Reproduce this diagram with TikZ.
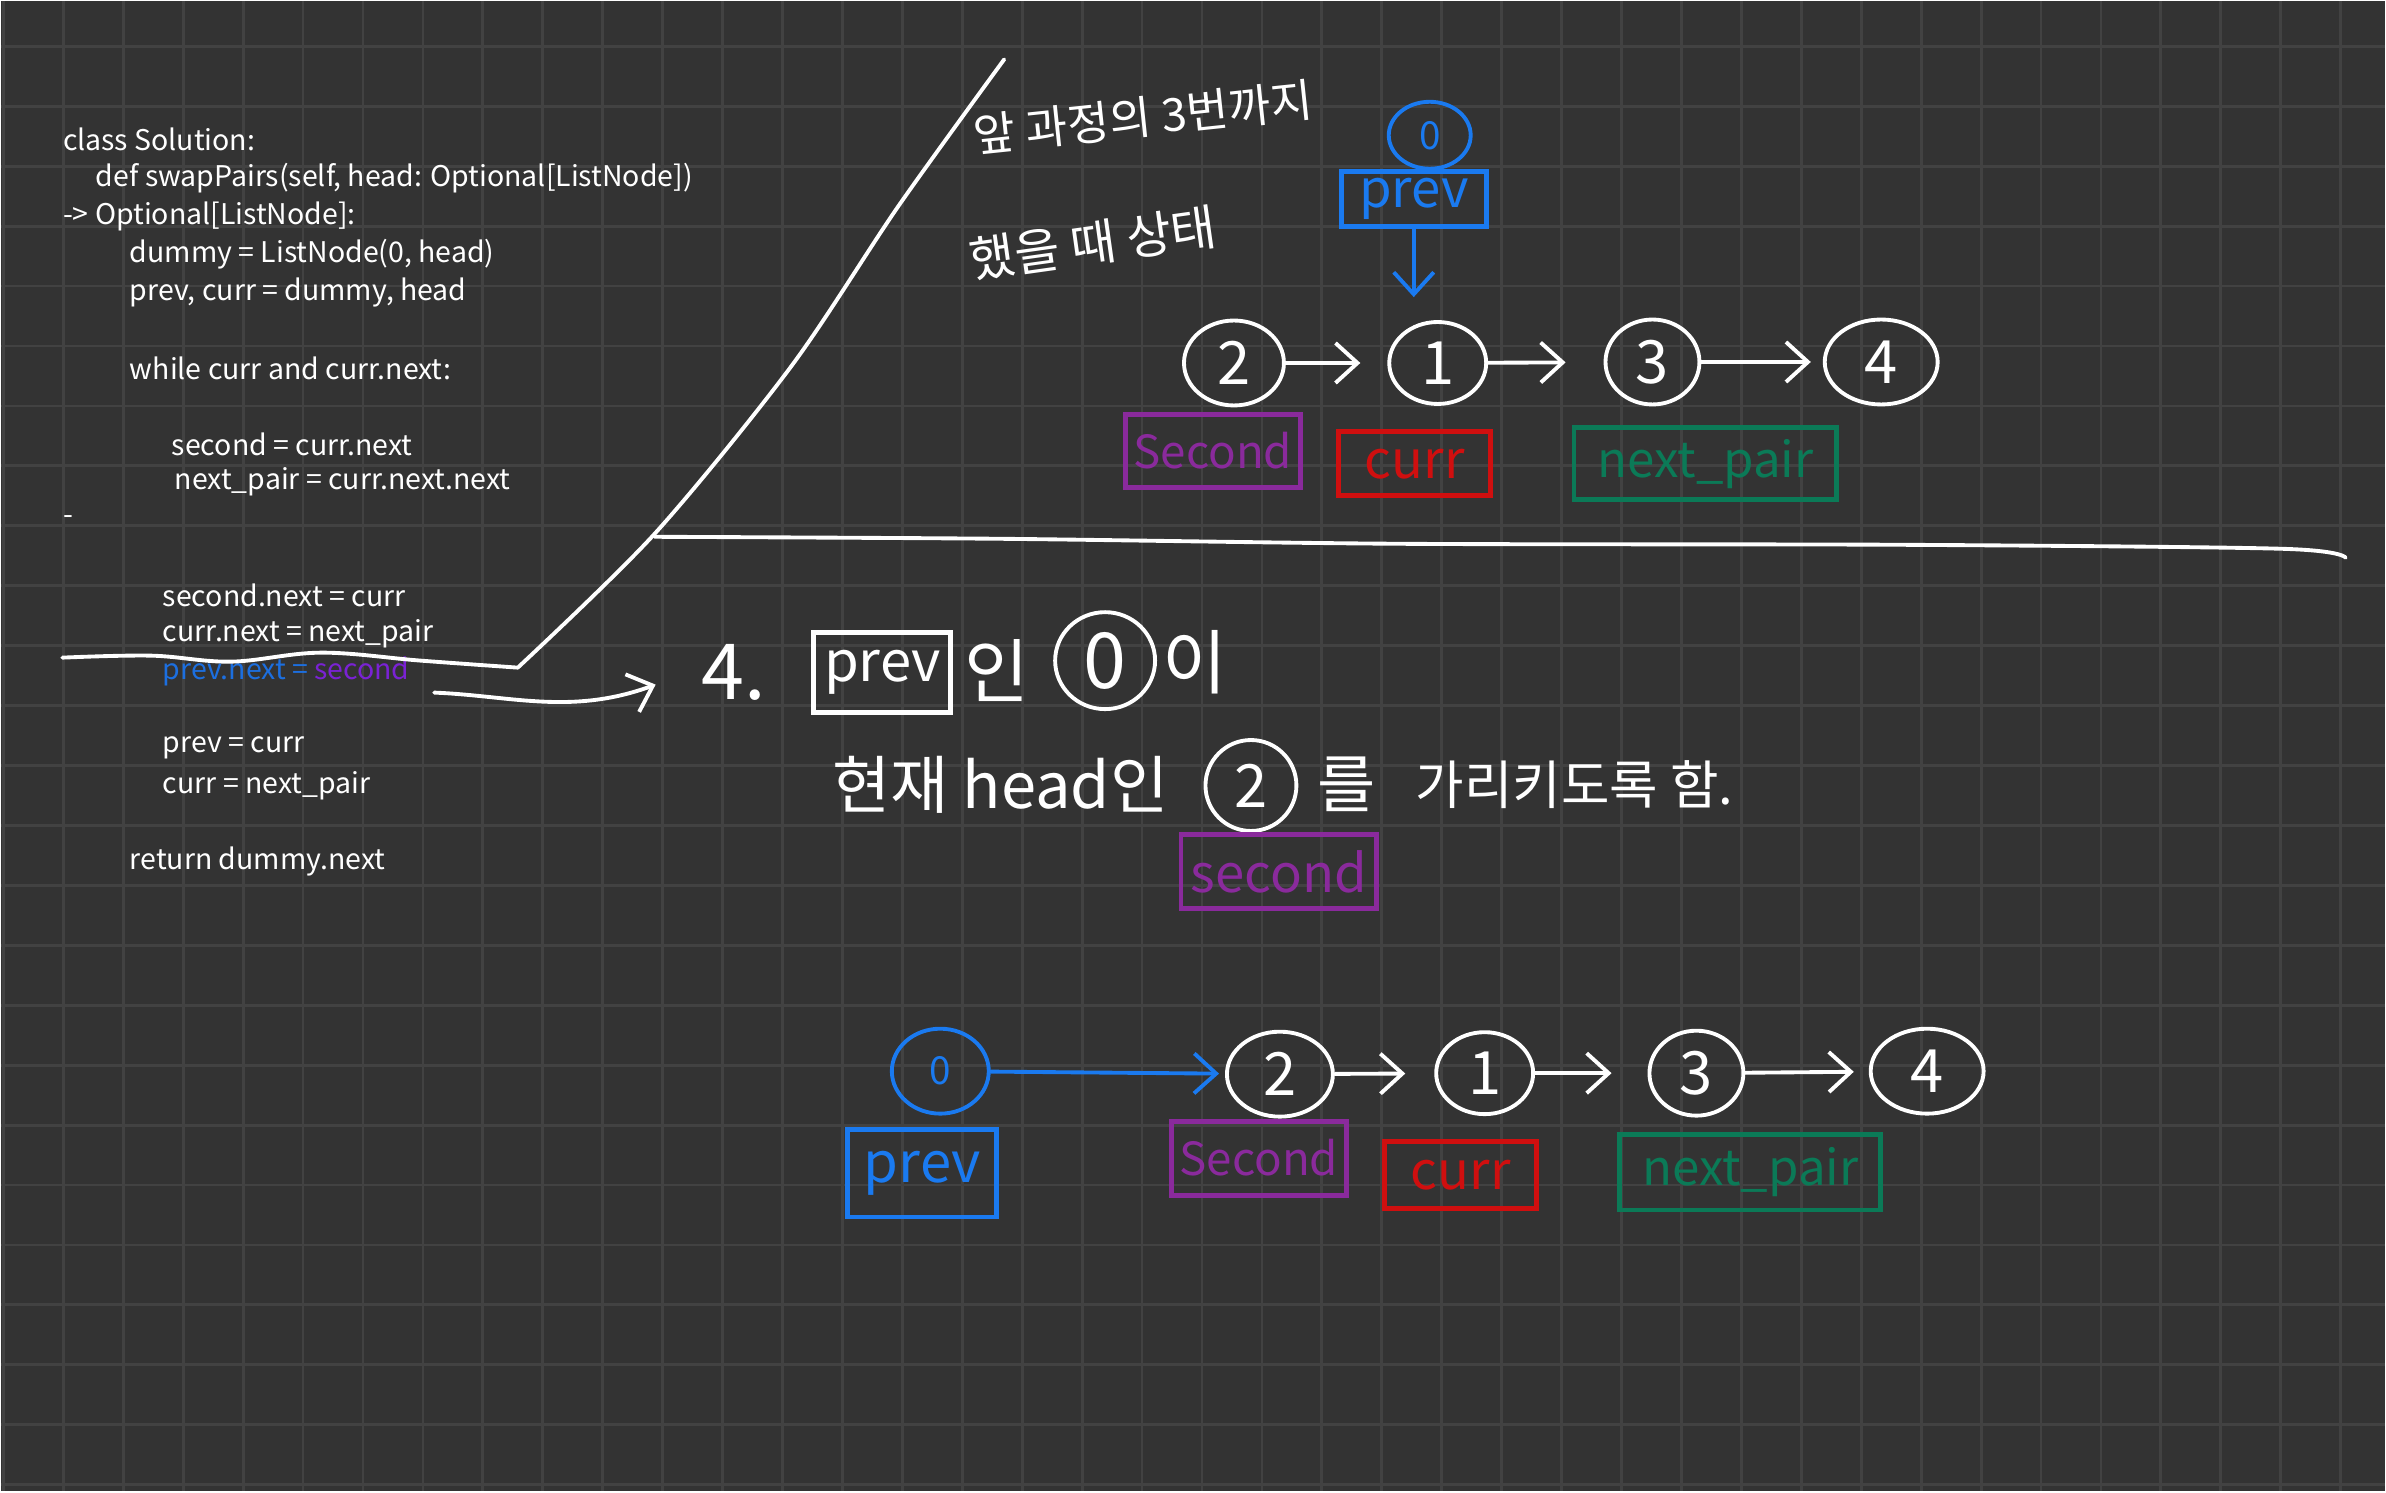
\documentclass[tikz,border=0pt]{standalone}
\usepackage{fontspec}
\setmainfont{Noto Sans CJK KR}
\usepackage{xcolor}
\usetikzlibrary{arrows.meta,positioning,shapes.geometric}
\definecolor{NoteBg}{HTML}{333333}
\definecolor{NoteGrid}{HTML}{424242}
\definecolor{PenBlue}{HTML}{1A7AF0}
\definecolor{PenPurple}{HTML}{8A2A9C}
\definecolor{PenRed}{HTML}{D00F0F}
\definecolor{PenGreen}{HTML}{0B7A57}
\definecolor{CodeBlue}{HTML}{1C6FE0}
\definecolor{CodePurple}{HTML}{7A22D4}
\tikzset{
  gridline/.style={NoteGrid, line width=0.8pt},
  code/.style={anchor=west, inner sep=0pt, text=white, font=\fontsize{8.1}{10}\selectfont},
  hand/.style={inner sep=0pt, text=white, font=\fontsize{18}{20}\selectfont},
  listnode/.style={ellipse, draw=white, line width=1.1pt, text=white, inner sep=0pt,
                   font=\fontsize{17}{19}\selectfont},
  tagbox/.style={draw, line width=1.4pt, inner sep=0pt, font=\fontsize{14}{16}\selectfont},
  pen/.style={white, line width=1.1pt, line cap=round, line join=round},
  penarrow/.style={pen, -{Straight Barb[length=2.2mm, width=4mm]}},
  bluearrow/.style={penarrow, PenBlue}
}
\begin{document}
\begin{tikzpicture}[x=0.01cm, y=-0.01cm]
  % notebook page
  \fill[NoteBg] (0,0) rectangle (2386,1491);
  \foreach \gx in {2,62,...,2386} \draw[gridline] (\gx,0) -- (\gx,1491);
  \foreach \gy in {45,105,...,1491} \draw[gridline] (0,\gy) -- (2386,\gy);
  \useasboundingbox (0,0) rectangle (2386,1491);

  % code
  \node[code] (c1) at (61,138) {class Solution:};
  \node[code] (c2) at (94,177) {def swapPairs(self, head: Optional[ListNode])};
  \node[code] (c3) at (61,215) {-> Optional[ListNode]:};
  \node[code] (c4) at (128,253) {dummy = ListNode(0, head)};
  \node[code] (c5) at (128,291) {prev, curr = dummy, head};
  \node[code] (c6) at (128,367) {while curr and curr.next:};
  \node[code] (c7) at (170,443) {second = curr.next};
  \node[code] (c8) at (173,481) {next\_pair = curr.next.next};
  \node[code] (c9) at (61,519) {-};
  \node[code] (c10) at (161,595) {second.next = curr};
  \node[code] (c11) at (161,633) {curr.next = next\_pair};
  \node[code] (c12) at (161,671) {\textcolor{CodeBlue}{prev.next =} \textcolor{CodePurple}{second}};
  \node[code] (c13) at (161,747) {prev = curr};
  \node[code] (c14) at (161,785) {curr = next\_pair};
  \node[code] (c15) at (128,861) {return dummy.next};

  % separators
  \draw[pen] plot[smooth, tension=0.6] coordinates {(61,657) (150,655) (230,661) (320,652) (420,660) (517,667)}
    -- plot[smooth] coordinates {(517,667) (654,533) (791,365) (898,205) (1004,58)};
  \draw[pen] plot[smooth] coordinates {(654,536) (1000,538) (1400,543) (1900,544) (2283,548) (2347,557)};

  % state after step 3
  \node[hand, rotate=6, font=\fontsize{13}{15}\selectfont] (noteA) at (1143,116) {앞 과정의 3번까지};
  \node[hand, rotate=8, font=\fontsize{14}{16}\selectfont] (noteB) at (1093,242) {했을 때 상태};

  \node[listnode, draw=PenBlue, text=PenBlue, font=\fontsize{11}{13}\selectfont,
        minimum width=0.82cm, minimum height=0.67cm] (p0top) at (1430,134) {0};
  \node[tagbox, draw=PenBlue, text=PenBlue, font=\fontsize{15}{17}\selectfont,
        minimum width=1.45cm, minimum height=0.55cm] (prevTop) at (1414,198) {prev};
  \node[listnode, minimum width=1.00cm, minimum height=0.85cm] (n2) at (1234,362) {2};
  \node[listnode, minimum width=0.97cm, minimum height=0.82cm] (n1) at (1438,362) {1};
  \node[listnode, minimum width=0.94cm, minimum height=0.85cm] (n3) at (1653,361) {3};
  \node[listnode, minimum width=1.13cm, minimum height=0.85cm] (n4) at (1882,361) {4};
  \node[tagbox, draw=PenPurple, text=PenPurple, font=\fontsize{13}{15}\selectfont,
        minimum width=1.75cm, minimum height=0.73cm] (secondTop) at (1213,450) {Second};
  \node[tagbox, draw=PenRed, text=PenRed, font=\fontsize{15}{17}\selectfont,
        minimum width=1.52cm, minimum height=0.64cm] (currTop) at (1415,463) {curr};
  \node[tagbox, draw=PenGreen, text=PenGreen,
        minimum width=2.63cm, minimum height=0.72cm] (npTop) at (1706,463) {next\_pair};

  \draw[bluearrow, shorten >=0.23cm] (prevTop.south) -- (prevTop.south |- n1.north);
  \draw[penarrow, shorten >=0.27cm] (n2) -- (n1);
  \draw[penarrow, shorten >=0.38cm] (n1) -- (n3);
  \draw[penarrow, shorten >=0.12cm] (n3) -- (n4);

  % step 4
  \node[hand, anchor=west, font=\fontsize{22}{24}\selectfont] (step4) at (700,672) {4.};
  \coordinate (hook4) at (655,684);
  \draw[penarrow] ([shift={(24,21)}]c12.east) .. controls (510,695) and (570,715) .. (hook4);
  \node[tagbox, draw=white, text=white, font=\fontsize{16}{18}\selectfont,
        minimum width=1.37cm, minimum height=0.80cm] (prevMid) at (882,672) {prev};
  \node[hand, font=\fontsize{20}{22}\selectfont] (inA) at (997,670) {인};
  \node[listnode, font=\fontsize{22}{24}\selectfont,
        minimum width=1.00cm, minimum height=0.97cm] (m0) at (1105,660) {0};
  \node[hand, font=\fontsize{20}{22}\selectfont] (iA) at (1195,662) {이};
  \node[hand] (lineB) at (1000,784) {현재 head인};
  \node[listnode, minimum width=0.91cm, minimum height=0.91cm] (m2) at (1251,785) {2};
  \node[hand] (eul) at (1347,784) {를};
  \node[hand, font=\fontsize{15}{17}\selectfont] (lineC) at (1575,784) {가리키도록 함.};
  \node[tagbox, draw=PenPurple, text=PenPurple, font=\fontsize{15}{17}\selectfont,
        minimum width=1.96cm, minimum height=0.74cm] (secondMid) at (1279,871) {second};

  % after step 4
  \node[listnode, draw=PenBlue, text=PenBlue, font=\fontsize{11}{13}\selectfont,
        minimum width=0.97cm, minimum height=0.85cm] (b0) at (940,1071) {0};
  \node[listnode, minimum width=1.06cm, minimum height=0.85cm] (bn2) at (1280,1074) {2};
  \node[listnode, minimum width=0.97cm, minimum height=0.82cm] (bn1) at (1485,1073) {1};
  \node[listnode, minimum width=0.94cm, minimum height=0.85cm] (bn3) at (1697,1073) {3};
  \node[listnode, minimum width=1.13cm, minimum height=0.85cm] (bn4) at (1928,1071) {4};
  \node[tagbox, draw=PenBlue, text=PenBlue, font=\fontsize{16}{18}\selectfont,
        minimum width=1.49cm, minimum height=0.88cm] (prevBot) at (922,1173) {prev};
  \node[tagbox, draw=PenPurple, text=PenPurple, font=\fontsize{13}{15}\selectfont,
        minimum width=1.75cm, minimum height=0.74cm] (secondBot) at (1259,1158) {Second};
  \node[tagbox, draw=PenRed, text=PenRed, font=\fontsize{15}{17}\selectfont,
        minimum width=1.52cm, minimum height=0.67cm] (currBot) at (1461,1175) {curr};
  \node[tagbox, draw=PenGreen, text=PenGreen,
        minimum width=2.61cm, minimum height=0.76cm] (npBot) at (1751,1172) {next\_pair};

  \draw[bluearrow, shorten >=0.06cm] (b0) -- (bn2);
  \draw[penarrow, shorten >=0.29cm] (bn2) -- (bn1);
  \draw[penarrow, shorten >=0.36cm] (bn1) -- (bn3);
  \draw[penarrow, shorten >=0.15cm] (bn3) -- (bn4);
\end{tikzpicture}
\end{document}
